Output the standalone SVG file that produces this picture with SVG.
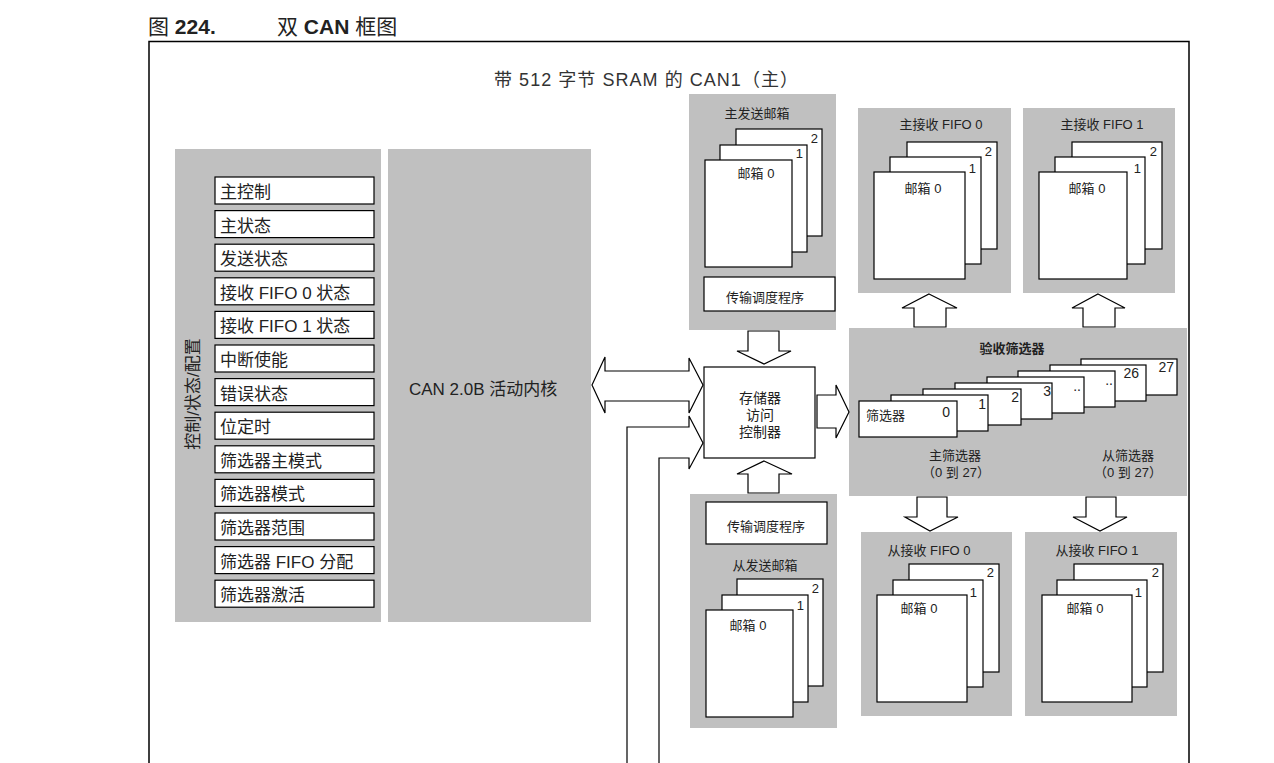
<svg xmlns="http://www.w3.org/2000/svg" width="1274" height="763" viewBox="0 0 1274 763">
<style>
text{font-family:"Liberation Sans","Noto Sans CJK SC",sans-serif;fill:#222}
.panel{fill:#c0c0c0}
.box{fill:#fff;stroke:#000;stroke-width:1.2}
.reg{font-size:17px}
.sm{font-size:13px}
.num{font-size:14px}
.mid{text-anchor:middle}
.end{text-anchor:end}
.arr{fill:#fff;stroke:#000;stroke-width:1.2;stroke-linejoin:miter}
.line{fill:none;stroke:#000;stroke-width:1.5}
</style>

<g id="title">
<text x="148" y="34" style="font-size:21px">图 <tspan font-weight="bold">224.</tspan></text>
<text x="277" y="34" style="font-size:21px">双 <tspan font-weight="bold">CAN</tspan> 框图</text>
</g>

<g id="frame">
<path class="line" d="M149,763 V41.5 H1189 V763"/>
<text x="494" y="86" style="font-size:18px;fill:#333" textLength="304" lengthAdjust="spacing">带 512 字节 SRAM 的 CAN1（主）</text>
</g>

<g id="control-status-config">
<rect class="panel" x="175" y="149" width="206" height="473"/>
<text transform="translate(199,394) rotate(-90)" class="mid reg">控制/状态/配置</text>
<g id="registers">
<rect class="box" x="215" y="177" width="159" height="27"/><text class="reg" x="220" y="198">主控制</text>
<rect class="box" x="215" y="210.6" width="159" height="27"/><text class="reg" x="220" y="231.6">主状态</text>
<rect class="box" x="215" y="244.2" width="159" height="27"/><text class="reg" x="220" y="265.2">发送状态</text>
<rect class="box" x="215" y="277.8" width="159" height="27"/><text class="reg" x="220" y="298.8">接收 FIFO 0 状态</text>
<rect class="box" x="215" y="311.4" width="159" height="27"/><text class="reg" x="220" y="332.4">接收 FIFO 1 状态</text>
<rect class="box" x="215" y="345" width="159" height="27"/><text class="reg" x="220" y="366">中断使能</text>
<rect class="box" x="215" y="378.6" width="159" height="27"/><text class="reg" x="220" y="399.6">错误状态</text>
<rect class="box" x="215" y="412.2" width="159" height="27"/><text class="reg" x="220" y="433.2">位定时</text>
<rect class="box" x="215" y="445.8" width="159" height="27"/><text class="reg" x="220" y="466.8">筛选器主模式</text>
<rect class="box" x="215" y="479.4" width="159" height="27"/><text class="reg" x="220" y="500.4">筛选器模式</text>
<rect class="box" x="215" y="513" width="159" height="27"/><text class="reg" x="220" y="534">筛选器范围</text>
<rect class="box" x="215" y="546.6" width="159" height="27"/><text class="reg" x="220" y="567.6">筛选器 FIFO 分配</text>
<rect class="box" x="215" y="580.2" width="159" height="27"/><text class="reg" x="220" y="601.2">筛选器激活</text>
</g>
</g>

<g id="can-core">
<rect class="panel" x="388" y="149" width="203" height="473"/>
<text class="reg" x="409" y="395">CAN 2.0B 活动内核</text>
</g>

<g id="master-tx-mailboxes">
<rect class="panel" x="689" y="94" width="147" height="236"/>
<text class="sm mid" x="757" y="118">主发送邮箱</text>
<rect class="box" x="736" y="129" width="86" height="107"/>
<text class="sm end" x="818" y="143">2</text>
<rect class="box" x="720" y="145" width="87" height="107"/>
<text class="sm end" x="803" y="158">1</text>
<rect class="box" x="705" y="160" width="87" height="107"/>
<text class="sm mid" x="756" y="178">邮箱 0</text>
<rect class="box" x="704" y="277" width="131" height="34"/>
<text class="sm mid" x="765" y="302">传输调度程序</text>
</g>

<g id="memory-access-controller">
<rect class="box" x="704" y="367" width="111" height="91"/>
<text class="mid" style="font-size:14px" x="760" y="403">存储器</text>
<text class="mid" style="font-size:14px" x="760" y="420">访问</text>
<text class="mid" style="font-size:14px" x="760" y="437">控制器</text>
</g>

<g id="slave-tx-mailboxes">
<rect class="panel" x="690" y="494" width="147" height="234"/>
<rect class="box" x="706" y="502" width="121" height="42"/>
<text class="sm mid" x="766" y="531">传输调度程序</text>
<text class="sm mid" x="765" y="570">从发送邮箱</text>
<rect class="box" x="737" y="579" width="86" height="107"/>
<text class="sm end" x="819" y="593">2</text>
<rect class="box" x="722" y="595" width="86" height="107"/>
<text class="sm end" x="804" y="610">1</text>
<rect class="box" x="706" y="610" width="87" height="107"/>
<text class="sm mid" x="748" y="630">邮箱 0</text>
</g>

<g id="master-rx-fifo0">
<rect class="panel" x="858" y="108" width="153" height="185"/>
<text class="sm mid" x="941" y="129">主接收 FIFO 0</text>
<rect class="box" x="907" y="142" width="90" height="107"/>
<text class="sm end" x="992" y="156">2</text>
<rect class="box" x="890" y="157" width="91" height="107"/>
<text class="sm end" x="976" y="173">1</text>
<rect class="box" x="874" y="172" width="91" height="107"/>
<text class="sm mid" x="923" y="193">邮箱 0</text>
</g>

<g id="master-rx-fifo1">
<rect class="panel" x="1023" y="108" width="152" height="185"/>
<text class="sm mid" x="1102" y="129">主接收 FIFO 1</text>
<rect class="box" x="1072" y="142" width="90" height="107"/>
<text class="sm end" x="1157" y="156">2</text>
<rect class="box" x="1055" y="157" width="90" height="107"/>
<text class="sm end" x="1141" y="173">1</text>
<rect class="box" x="1039" y="172" width="88" height="107"/>
<text class="sm mid" x="1087" y="193">邮箱 0</text>
</g>

<g id="acceptance-filters">
<rect class="panel" x="849" y="328" width="338" height="168"/>
<text class="sm mid" x="1012" y="353" font-weight="bold">验收筛选器</text>
<rect class="box" x="1081" y="359" width="96" height="36"/>
<text class="num end" x="1174" y="372">27</text>
<rect class="box" x="1050" y="365" width="96" height="36"/>
<text class="num end" x="1139" y="378">26</text>
<rect class="box" x="1018" y="371" width="97" height="36"/>
<text class="num end" x="1113" y="385">..</text>
<rect class="box" x="987" y="377" width="97" height="36"/>
<text class="num end" x="1081" y="391">..</text>
<rect class="box" x="955" y="383" width="97" height="36"/>
<text class="num end" x="1051" y="396">3</text>
<rect class="box" x="923" y="389" width="98" height="36"/>
<text class="num end" x="1019" y="402">2</text>
<rect class="box" x="891" y="395" width="97" height="36"/>
<text class="num end" x="986" y="409">1</text>
<rect class="box" x="859" y="401" width="98" height="36"/>
<text class="sm" x="866" y="420">筛选器</text>
<text class="num end" x="950" y="417">0</text>
<text class="mid sm" x="955" y="460">主筛选器</text>
<text class="mid sm" x="956" y="477">（0 到 27）</text>
<text class="mid sm" x="1128" y="460">从筛选器</text>
<text class="mid sm" x="1128" y="477">（0 到 27）</text>
</g>

<g id="slave-rx-fifo0">
<rect class="panel" x="861" y="532" width="151" height="184"/>
<text class="sm mid" x="929" y="555">从接收 FIFO 0</text>
<rect class="box" x="909" y="564" width="90" height="108"/>
<text class="sm end" x="994" y="577">2</text>
<rect class="box" x="893" y="580" width="90" height="107"/>
<text class="sm end" x="977" y="597">1</text>
<rect class="box" x="877" y="595" width="90" height="107"/>
<text class="sm mid" x="919" y="613">邮箱 0</text>
</g>

<g id="slave-rx-fifo1">
<rect class="panel" x="1025" y="532" width="152" height="184"/>
<text class="sm mid" x="1097" y="555">从接收 FIFO 1</text>
<rect class="box" x="1074" y="564" width="89" height="108"/>
<text class="sm end" x="1159" y="577">2</text>
<rect class="box" x="1057" y="580" width="90" height="107"/>
<text class="sm end" x="1142" y="597">1</text>
<rect class="box" x="1042" y="595" width="90" height="107"/>
<text class="sm mid" x="1085" y="613">邮箱 0</text>
</g>

<g id="connectors">
<polygon class="arr" points="592,385 605,357 605,371 689,371 689,358 703,385 689,413 689,401 605,401 605,413"/>
<path class="arr" d="M627,764 V427 H689 V416 L703,443 L689,469 V458 H659 V764"/>
<polygon class="arr" points="817,395 836,395 836,385 849,412 836,438 836,428 817,428"/>
<polygon class="arr" points="748,331 779,331 779,351 791,351 764,364 737,351 748,351"/>
<polygon class="arr" points="764,461 792,474 779,474 779,493 748,493 748,474 737,474"/>
<polygon class="arr" points="929,294 957,308 946,308 946,327 914,327 914,308 902,308"/>
<polygon class="arr" points="1098,294 1125,308 1115,308 1115,327 1083,327 1083,308 1072,308"/>
<polygon class="arr" points="917,497 947,497 947,517 958,517 930,531 905,517 917,517"/>
<polygon class="arr" points="1086,497 1116,497 1116,517 1127,517 1100,531 1073,517 1086,517"/>
</g>
</svg>
